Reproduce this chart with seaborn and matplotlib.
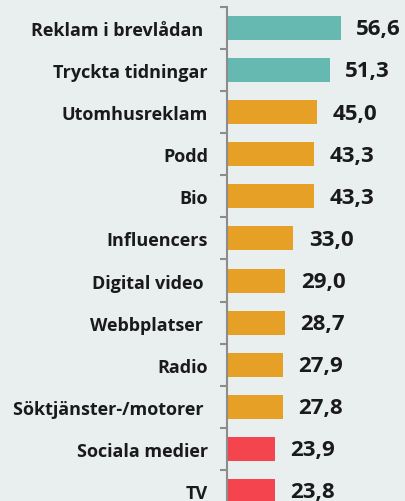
import numpy as np
import pandas as pd
import seaborn as sns
import matplotlib.pyplot as plt
from matplotlib.ticker import FixedLocator

categories = ["Reklam i brevlådan ", "Tryckta tidningar", "Utomhusreklam", "Podd", "Bio",
              "Influencers", "Digital video ", "Webbplatser ", "Radio",
              "Söktjänster-/motorer ", "Sociala medier", "TV"]
values = [56.6, 51.3, 45.0, 43.3, 43.3, 33.0, 29.0, 28.7, 27.9, 27.8, 23.9, 23.8]
groups = ["hög", "hög", "mellan", "mellan", "mellan", "mellan", "mellan", "mellan",
          "mellan", "mellan", "låg", "låg"]
palette = {"hög": "#66B9B1", "mellan": "#E5A025", "låg": "#F4444D"}

df = pd.DataFrame({"kanal": categories, "värde": values, "grupp": groups})

bg = "#E8EFEE"
sns.set_style("white")
plt.rcParams['font.family'] = ['Open Sans', 'DejaVu Sans']

fig = plt.figure(figsize=(4.06, 5.02), dpi=100, facecolor=bg)
ax = fig.add_axes([227.5 / 406, -0.0219, (406 - 227.5) / 406, 505 / 502])
ax.set_facecolor(bg)

sns.barplot(data=df, x="värde", y="kanal", hue="grupp", palette=palette,
            orient="h", width=0.57, dodge=False, legend=False, saturation=1,
            linewidth=0, ax=ax)

for i, v in enumerate(values):
    ax.text(v + 7.6, i + 0.02, f"{v:.1f}".replace(".", ","), va="center", ha="left",
            fontsize=16, fontweight="bold", color="#1A1A1A")

ax.set_xlim(0, (406 - 227.5) / 2)
ax.set_ylim(11.5, -0.5)
ax.set_xlabel("")
ax.set_ylabel("")
ax.set_xticks([])
for s in ["top", "right", "bottom"]:
    ax.spines[s].set_visible(False)
ax.spines["left"].set_color("#8C8C8C")
ax.spines["left"].set_linewidth(1.5)

ax.tick_params(axis="y", which="major", length=0, pad=14, labelsize=13, labelcolor="#1A1A1A")
for lbl in ax.get_yticklabels():
    lbl.set_fontweight("bold")
ax.yaxis.set_minor_locator(FixedLocator(np.arange(-0.5, 12, 1)))
ax.tick_params(axis="y", which="minor", length=5, width=1.5, color="#8C8C8C", left=True)

fig.savefig("out.png", dpi=100, facecolor=bg)
